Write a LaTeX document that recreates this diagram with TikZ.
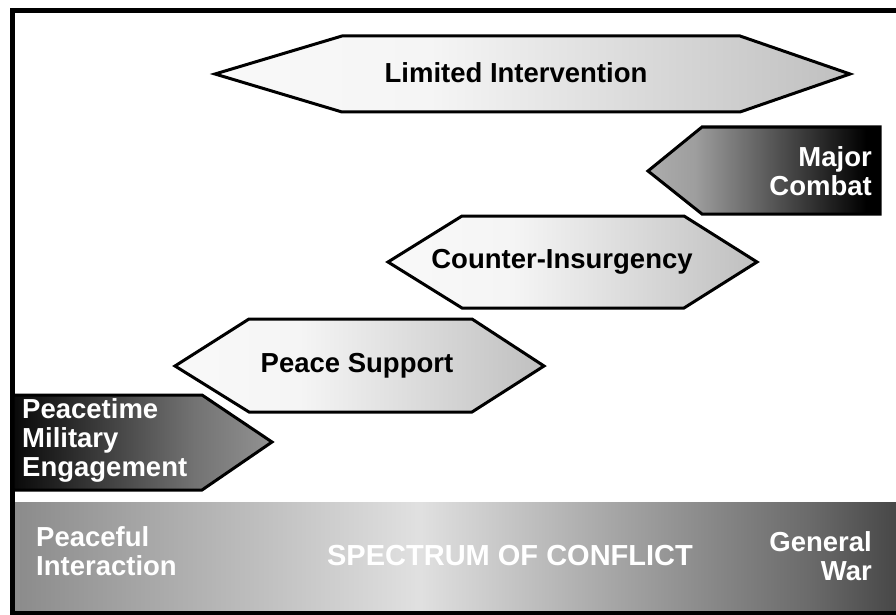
\documentclass[tikz,border=0pt]{standalone}
\usepackage{fontspec}
\setmainfont{Liberation Sans}
\pgfdeclarehorizontalshading{hexshade}{100bp}{color(0bp)=(white); color(42bp)=(white!96!black); color(75bp)=(white!75!black); color(100bp)=(white!60!black)}
\pgfdeclarehorizontalshading{darkleft}{100bp}{color(0bp)=(black); color(22bp)=(black); color(60bp)=(white!45!black); color(100bp)=(white!78!black)}
\pgfdeclarehorizontalshading{darkright}{100bp}{color(0bp)=(white!82!black); color(35bp)=(white!62!black); color(72bp)=(black); color(100bp)=(black)}
\pgfdeclarehorizontalshading{band}{100bp}{color(0bp)=(white!38!black); color(22bp)=(white!50!black); color(48bp)=(white!88!black); color(70bp)=(white!42!black); color(85bp)=(black); color(100bp)=(black)}
\tikzset{
  hexbox/.style={draw=black, line width=3pt, line join=miter, shading=hexshade},
  lbl/.style={font=\fontsize{27.5}{29}\selectfont\bfseries, inner sep=0pt, align=center},
  wlbl/.style={lbl, text=white},
}
\begin{document}
\begin{tikzpicture}[x=1pt,y=-1pt]
\useasboundingbox (0,0) rectangle (896,615);
\fill[white] (0,0) rectangle (896,615);
% bottom band
\fill[shading=band] (13,502) rectangle (896,613);
% frame
\draw[line width=5pt] (12.5,10.5) rectangle (902,613);
% Limited Intervention
\path[hexbox] (215,74) -- (342,36) -- (740,36) -- (850,74) -- (740,112) -- (342,112) -- cycle;
\node[lbl] (li) at (516,73) {Limited Intervention};
% Major Combat
\path[draw=black, line width=3pt, line join=miter, shading=darkright] (648,171) -- (702,127) -- (880,127) -- (880,214) -- (702,214) -- cycle;
\node[wlbl, align=right, anchor=east] (mc) at (872,171) {Major\\Combat};
% Counter-Insurgency
\path[hexbox] (388,262) -- (462,216) -- (684,216) -- (757,262) -- (684,308) -- (462,308) -- cycle;
\node[lbl] (ci) at (562,262) {Counter-Insurgency};
% Peace Support
\path[hexbox] (175,366) -- (249,319) -- (472,319) -- (544,366) -- (472,412) -- (249,412) -- cycle;
\node[lbl] (ps) at (357,366) {Peace Support};
% Peacetime Military Engagement
\path[draw=black, line width=3pt, line join=miter, shading=darkleft] (13,395) -- (202,395) -- (272,442) -- (202,490) -- (13,490) -- cycle;
\node[wlbl, align=left, anchor=west] (pme) at (22,440) {Peacetime\\Military\\Engagement};
% band labels
\node[wlbl, align=left, anchor=west] (pi) at (36,551) {Peaceful\\Interaction};
\node[wlbl, font=\fontsize{29}{30}\selectfont\bfseries] (sc) at (510,556) {SPECTRUM OF CONFLICT};
\node[wlbl, align=right, anchor=east] (gw) at (872,556) {General\\War};
\end{tikzpicture}
\end{document}
